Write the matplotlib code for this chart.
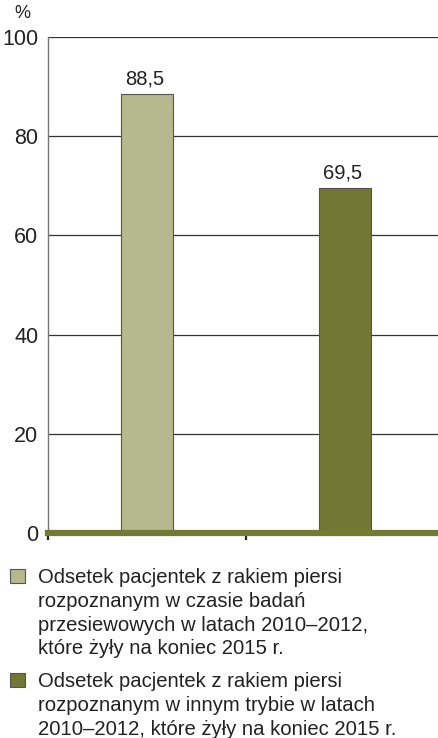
import matplotlib.pyplot as plt
from matplotlib.patches import Rectangle

plt.rcParams['font.family'] = ['Liberation Sans', 'DejaVu Sans']

categories = ["badania przesiewowe", "inny tryb"]
values = [88.5, 69.5]
value_labels = ["88,5", "69,5"]
colors = ["#b5b98d", "#727733"]
y_ticks = [0, 20, 40, 60, 80, 100]
legend_labels = [
    "Odsetek pacjentek z rakiem piersi\nrozpoznanym w czasie badań\nprzesiewowych w latach 2010–2012,\nktóre żyły na koniec 2015 r.",
    "Odsetek pacjentek z rakiem piersi\nrozpoznanym w innym trybie w latach\n2010–2012, które żyły na koniec 2015 r.",
]

W, H = 439, 738
fig = plt.figure(figsize=(W / 100, H / 100), dpi=100)
ax = fig.add_axes([48 / W, 1 - 533 / H, 396 / W, 496 / H])

x = range(len(categories))
ax.bar(x, values, width=0.265, color=colors, edgecolor="#555555", linewidth=0.8, zorder=3)
for xi, v, lab in zip(x, values, value_labels):
    ax.text(xi - 0.01, v + 1.2, lab, ha="center", va="bottom", fontsize=14.5, color="#222222")

ax.set_xlim(-0.5, 1.5)
ax.set_ylim(0, 100)
ax.set_yticks(y_ticks)
ax.set_yticklabels([str(t) for t in y_ticks], fontsize=15.5, color="#222222")
ax.tick_params(axis="y", length=0, pad=7)
ax.set_xticks([-0.5, 0.5])
ax.set_xticklabels([])
ax.tick_params(axis="x", length=5, width=1.6, color="#222222", direction="out", pad=0)
for t in y_ticks[1:]:
    ax.axhline(t, color="#333333", linewidth=0.9, zorder=1)
ax.axhline(0, color="#737a34", linewidth=4.5, zorder=4, clip_on=False)
for side in ["top", "right", "bottom"]:
    ax.spines[side].set_visible(False)
ax.spines["left"].set_color("#777777")
ax.spines["left"].set_linewidth(1.0)

fig.text(22 / W, 1 - 14 / H, "%", ha="center", va="center", fontsize=13, color="#222222")

# legend drawn by hand: square next to the first line of each entry
first_baselines = [583, 687]
line_step = 23.8
for lab, col, base in zip(legend_labels, colors, first_baselines):
    fig.add_artist(Rectangle((10 / W, 1 - (base) / H), 15 / W, 14 / H,
                             transform=fig.transFigure, facecolor=col,
                             edgecolor="#555555", linewidth=0.8))
    for i, line in enumerate(lab.split("\n")):
        fig.text(38 / W, 1 - (base + i * line_step) / H, line, ha="left",
                 va="baseline", fontsize=14.6, color="#222222")

fig.savefig("out.png", dpi=100)
